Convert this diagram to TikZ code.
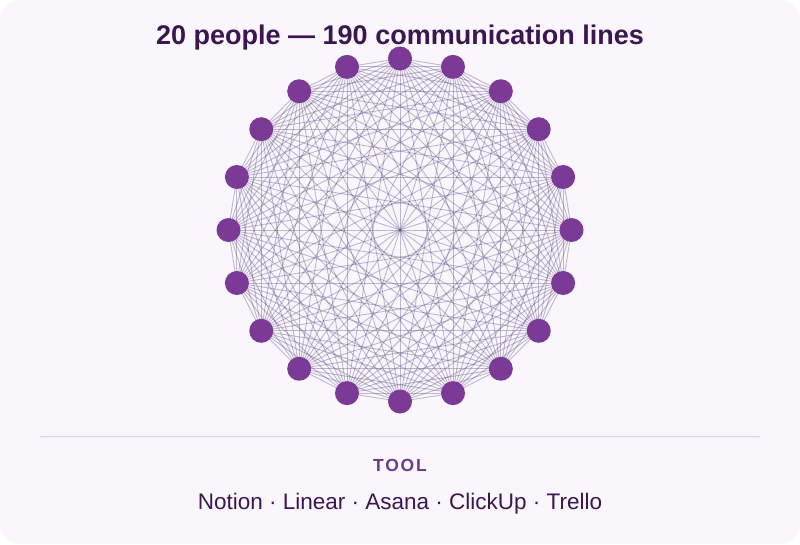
\documentclass[tikz,border=0pt]{standalone}
\usepackage{fontspec}
\setmainfont{Liberation Sans}
\definecolor{cardbg}{HTML}{F9F6FC}
\definecolor{dotfill}{HTML}{7B3A96}
\definecolor{titlepurple}{HTML}{3B1650}
\definecolor{toolpurple}{HTML}{6E3A8C}
\definecolor{linkline}{HTML}{56427C}
\definecolor{rulepink}{HTML}{E6CFE2}
\tikzset{
	person/.style={circle, fill=dotfill, minimum size=24pt, inner sep=0pt},
	link/.style={draw=linkline, line width=0.9pt, opacity=0.35},
	heading/.style={font=\fontsize{27}{32}\selectfont\bfseries, text=titlepurple},
	caption/.style={font=\fontsize{17.5}{21}\selectfont\bfseries\addfontfeature{LetterSpace=10}, text=toolpurple},
	toollist/.style={font=\fontsize{22.5}{27}\selectfont, text=titlepurple}
}

\begin{document}
\begin{tikzpicture}[x=1pt,y=-1pt]
	\useasboundingbox (0,0) rectangle (800,544);
	\fill[cardbg, rounded corners=22pt] (0,0) rectangle (800,544);
	% places on the ring
	\foreach \i in {0,...,19}
		\coordinate (c\i) at ({400+171.5*sin(18*\i)},{230-171.5*cos(18*\i)});
	% every pair talks
	\foreach \i in {0,...,18}{
		\pgfmathtruncatemacro{\k}{\i+1}
		\foreach \j in {\k,...,19}
			\draw[link] (c\i) -- (c\j);
	}
	\foreach \i in {0,...,19}
		\node[person] (p\i) at (c\i) {};
	\node[heading] (title) at (400,38) {20 people — 190 communication lines};
	\draw[rulepink, line width=1pt] (40,436) coordinate (ra) -- (760,436) coordinate (rb);
	\node[caption] (tool) at (400,465) {TOOL};
	\node[toollist] (tools) at (400,504) {Notion · Linear · Asana · ClickUp · Trello};
\end{tikzpicture}
\end{document}
